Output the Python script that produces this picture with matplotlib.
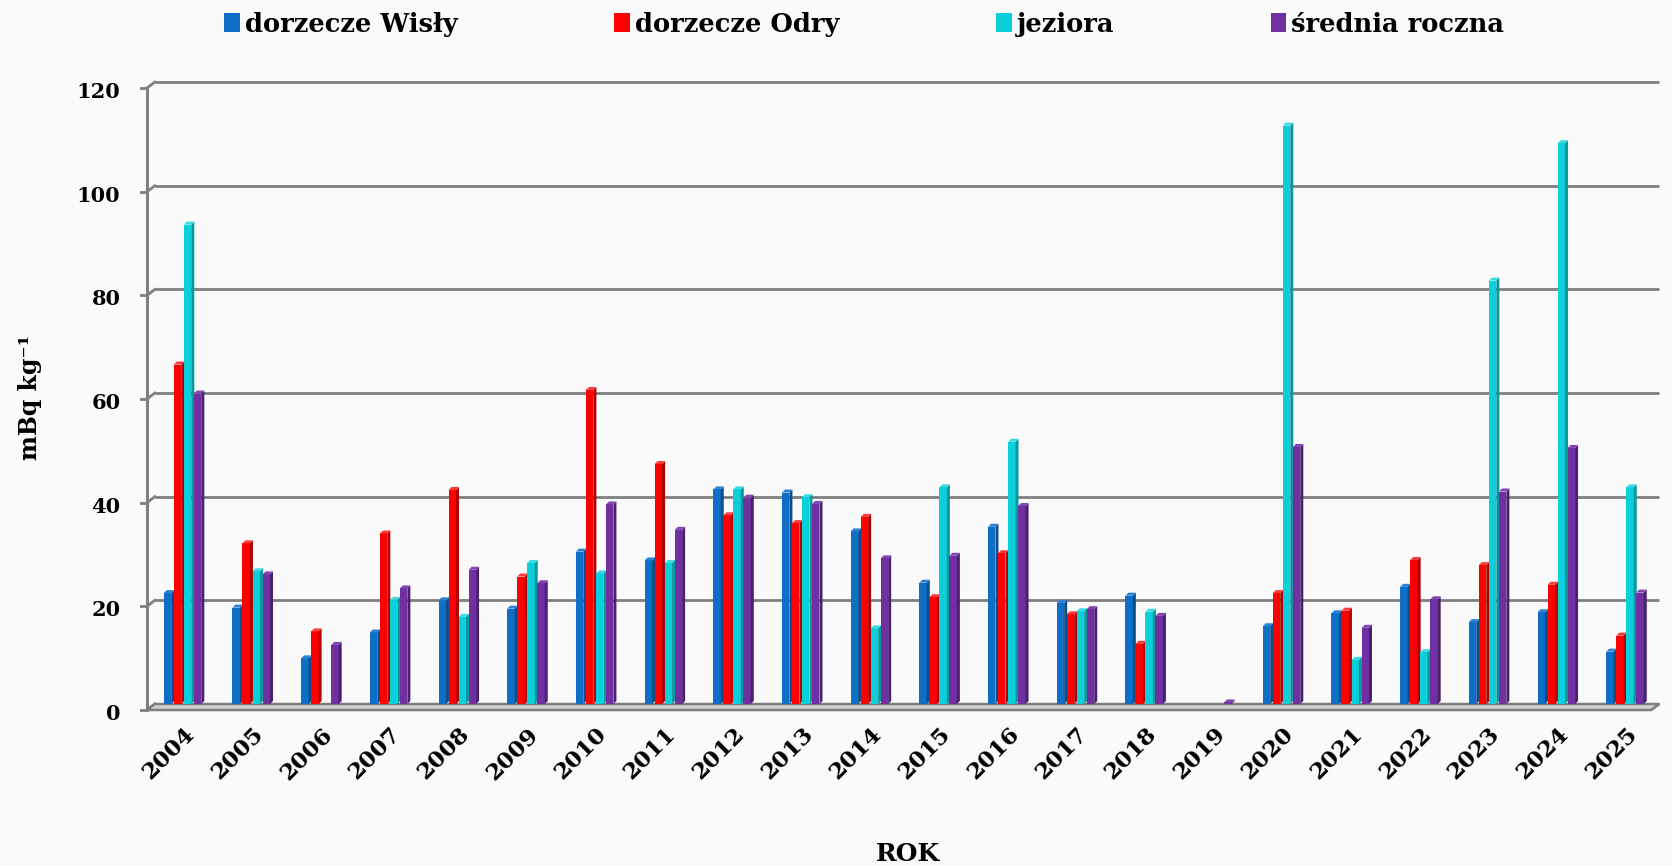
import matplotlib
matplotlib.use("Agg")
import matplotlib.pyplot as plt
from matplotlib.patches import Polygon, Patch
from matplotlib.transforms import ScaledTranslation
import numpy as np

years = [str(y) for y in range(2004, 2026)]
wisla = [21.4, 18.6, 8.8, 13.8, 20.0, 18.4, 29.4, 27.7, 41.4, 40.8, 33.3,
         23.4, 34.2, 19.5, 20.9, np.nan, 15.0, 17.5, 22.6, 15.8, 17.7, 10.1]
odra = [65.5, 31.0, 14.0, 32.9, 41.3, 24.6, 60.6, 46.3, 36.4, 34.9, 36.1,
        20.6, 29.1, 17.3, 11.6, np.nan, 21.4, 18.0, 27.8, 26.8, 23.0, 13.2]
jeziora = [92.5, 25.6, np.nan, 20.1, 16.8, 27.2, 25.2, 27.2, 41.4, 39.9, 14.6,
           41.8, 50.6, 17.9, 17.8, np.nan, 111.6, 8.5, 10.0, 81.7, 108.2, 41.8]
srednia = [59.9, 25.0, 11.4, 22.3, 25.9, 23.3, 38.5, 33.6, 39.8, 38.6, 28.1,
           28.6, 38.2, 18.3, 17.0, 0.3, 49.6, 14.7, 20.2, 41.0, 49.4, 21.5]
series_names = ['dorzecze Wisły', 'dorzecze Odry', 'jeziora', 'średnia roczna']
yticks = [0, 20, 40, 60, 80, 100, 120]

colors = ['#0F6FC6', '#FF0000', '#0BCFD9', '#7030A0']
side_colors = ['#0A4E8C', '#B00000', '#08979F', '#4C2070']
top_colors = ['#2A82D6', '#FF3A3A', '#3ADCE3', '#8443B4']

FONT = ['DejaVu Serif']
plt.rcParams['font.family'] = FONT
plt.rcParams['font.weight'] = 'bold'

fig = plt.figure(figsize=(16.72, 8.66), dpi=100)
fig.set_facecolor('#FAFAFA')
ax = fig.add_axes([0.0837, 0.1775, 0.912, 0.7337])
ax.set_facecolor('none')
ax.set_xlim(-0.64, 21.56)
ax.set_ylim(-1.6, 121)
for s in ax.spines.values():
    s.set_visible(False)

# pseudo 3d geometry (data units)
WX, WY = 0.116, 1.16      # back wall offset
DX, DY = 0.044, 0.58      # bar depth
front_x = -0.539
wall_l, wall_r = front_x + WX, 21.48
grid_c = '#7F7F7F'

# wall gridlines + elbows to the front axis
ax.hlines(yticks, wall_l, wall_r, color=grid_c, lw=2.0, zorder=1)
for k in yticks:
    ax.plot([front_x, wall_l], [k - WY, k], color=grid_c, lw=2.0, zorder=1)
    ax.plot([front_x - 0.1, front_x], [k - WY, k - WY], color=grid_c, lw=2.0, zorder=1)
ax.plot([front_x, front_x], [-WY, 120 - WY], color=grid_c, lw=2.2, zorder=1)

# floor
floor = Polygon([(front_x, -WY), (wall_l, 0), (wall_r, 0), (wall_r - WX, -WY)],
                closed=True, facecolor='#D0D0D0', edgecolor=grid_c, lw=1.8, zorder=1)
ax.add_patch(floor)

x = np.arange(len(years))
pitch = 0.146
bw = 0.108
for i, vals in enumerate([wisla, odra, jeziora, srednia]):
    off = (i - 1.5) * pitch - 0.02
    bars = ax.bar(x + off, vals, width=bw, color=colors[i], zorder=3 + i,
                  linewidth=0)
    for r in bars:
        h = r.get_height()
        if np.isnan(h):
            continue
        x0 = r.get_x()
        x1 = x0 + r.get_width()
        ax.add_patch(Polygon([(x1, 0), (x1 + DX, DY), (x1 + DX, h + DY), (x1, h)],
                             closed=True, facecolor=side_colors[i], lw=0, zorder=3 + i))
        ax.add_patch(Polygon([(x0, h), (x0 + DX, h + DY), (x1 + DX, h + DY), (x1, h)],
                             closed=True, facecolor=top_colors[i], lw=0, zorder=3 + i))

# axes ticks / labels
ax.set_yticks(yticks)
ax.set_yticklabels([str(v) for v in yticks], fontsize=15, fontweight='bold')
ax.tick_params(axis='y', length=0, pad=14)
shift = ScaledTranslation(0, -0.08, fig.dpi_scale_trans)
for lab in ax.get_yticklabels():
    lab.set_transform(lab.get_transform() + shift)

ax.set_xticks(x)
ax.set_xticklabels(years, fontsize=16.5, fontweight='bold', rotation=45,
                   ha='right', va='top', rotation_mode='anchor')
ax.tick_params(axis='x', length=0, pad=8)

ax.set_ylabel('mBq kg⁻¹', fontsize=17, fontweight='bold')
ax.yaxis.set_label_coords(-0.064, 0.496)
ax.set_xlabel('ROK', fontsize=18, fontweight='bold')
ax.xaxis.set_label_coords(0.5036, -0.204)

handles = [Patch(facecolor=c, edgecolor='none') for c in colors]
fig.legend(handles, series_names, loc='center', bbox_to_anchor=(0.517, 0.972),
           ncol=4, frameon=False, prop={'family': FONT, 'weight': 'bold', 'size': 18.5},
           handlelength=0.6, handleheight=0.75, handletextpad=0.2,
           columnspacing=6.1)

fig.savefig('out.png', dpi=100, facecolor=fig.get_facecolor())
